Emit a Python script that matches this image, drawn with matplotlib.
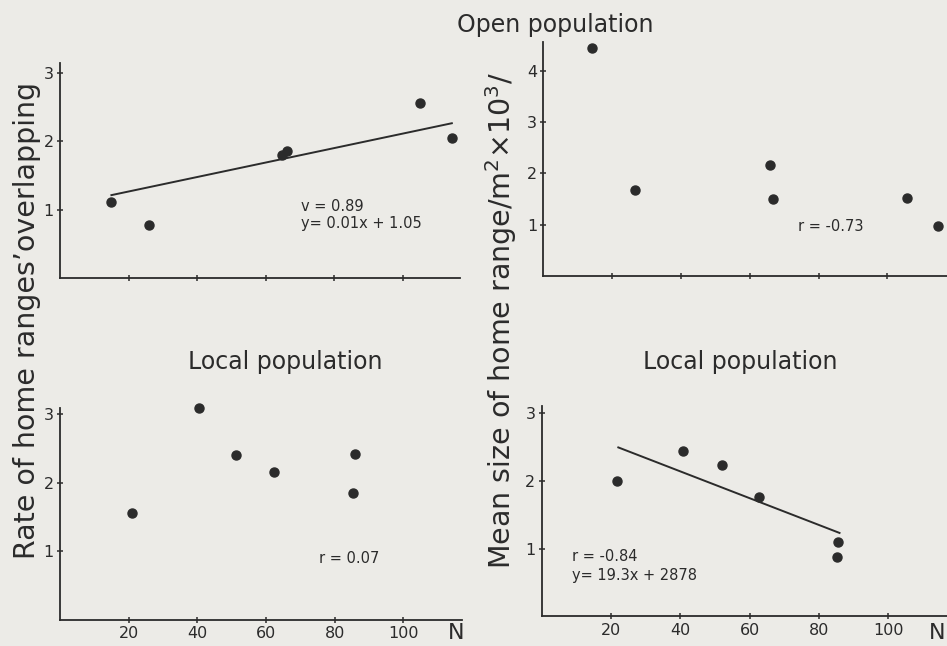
import matplotlib.pyplot as plt

# Open population (top panels)
open_n = [15, 26, 64.8, 66.3, 105, 114.4]
open_overlap = [1.11, 0.77, 1.79, 1.85, 2.56, 2.05]
open_size_n = [14.2, 26.5, 65.8, 66.6, 105.8, 114.7]
open_size = [4.44, 1.67, 2.17, 1.51, 1.53, 0.99]
open_fit_x = [15, 114.4]
open_fit_y = [1.21, 2.26]

# Local population (bottom panels)
local_n = [21.1, 40.4, 51.3, 62.4, 86.0, 85.3]
local_overlap = [1.56, 3.09, 2.40, 2.16, 2.42, 1.85]
local_size_n = [21.8, 40.7, 52.0, 62.6, 85.6, 85.2]
local_size = [2.00, 2.44, 2.23, 1.76, 1.10, 0.88]
local_fit_x = [22.1, 85.9]
local_fit_y = [2.49, 1.23]

x_ticks = [20, 40, 60, 80, 100]

bg = '#ecebe7'
ink = '#2b2b2b'
plt.rcParams['font.family'] = ['DejaVu Sans']
plt.rcParams['text.color'] = ink

fig = plt.figure(figsize=(9.47, 6.46), dpi=100, facecolor=bg)


def setup(ax, ylim, xlim, yticks, show_x):
    ax.set_facecolor(bg)
    ax.set_xlim(0, xlim)
    ax.set_ylim(0, ylim)
    for s in ['top', 'right']:
        ax.spines[s].set_visible(False)
    for s in ['left', 'bottom']:
        ax.spines[s].set_color(ink)
        ax.spines[s].set_linewidth(1.3)
    ax.set_yticks(yticks)
    ax.set_xticks(x_ticks)
    ax.tick_params(direction='inout', length=5, width=1.1, color=ink,
                   labelsize=11.5, labelcolor=ink, pad=2)
    if not show_x:
        ax.set_xticklabels([])
    else:
        ax.tick_params(axis='x', pad=2)


ax1 = fig.add_axes([0.0634, 0.5697, 0.4224, 0.3328])
setup(ax1, 3.14, 116.8, [1, 2, 3], False)
ax1.plot(open_n, open_overlap, 'o', color=ink, ms=6.5)
ax1.plot(open_fit_x, open_fit_y, '-', color=ink, lw=1.4)
ax1.text(70.5, 1.04, 'v = 0.89', fontsize=10.5, va='center')
ax1.text(70.5, 0.79, 'y= 0.01x + 1.05', fontsize=10.5, va='center')

ax2 = fig.add_axes([0.5739, 0.572, 0.4261, 0.3635])
setup(ax2, 4.56, 117.3, [1, 2, 3, 4], False)
ax2.plot(open_size_n, open_size, 'o', color=ink, ms=6.5)
ax2.text(74, 0.97, 'r = -0.73', fontsize=10.5, va='center')

ax3 = fig.add_axes([0.0634, 0.0402, 0.4242, 0.3282])
setup(ax3, 3.09, 117, [1, 2, 3], True)
ax3.plot(local_n, local_overlap, 'o', color=ink, ms=6.5, clip_on=False)
ax3.text(75.5, 0.89, 'r = 0.07', fontsize=10.5, va='center')

ax4 = fig.add_axes([0.572, 0.0458, 0.428, 0.3257])
setup(ax4, 3.1, 116.9, [1, 2, 3], True)
ax4.plot(local_size_n, local_size, 'o', color=ink, ms=6.5)
ax4.plot(local_fit_x, local_fit_y, '-', color=ink, lw=1.4)
ax4.text(8.7, 0.88, 'r = -0.84', fontsize=10.5, va='center')
ax4.text(8.7, 0.61, 'y= 19.3x + 2878', fontsize=10.5, va='center')

# titles and axis labels
fig.text(555 / 947, 1 - 25 / 646, 'Open population', fontsize=17, ha='center', va='center')
fig.text(285 / 947, 1 - 362 / 646, 'Local population', fontsize=17, ha='center', va='center')
fig.text(740 / 947, 1 - 362 / 646, 'Local population', fontsize=17, ha='center', va='center')
fig.text(456 / 947, 1 - 633 / 646, 'N', fontsize=16, ha='center', va='center')
fig.text(937 / 947, 1 - 633 / 646, 'N', fontsize=16, ha='center', va='center')
fig.text(27 / 947, 1 - 320 / 646, 'Rate of home ranges\u2019overlapping', fontsize=20.5,
         rotation=90, ha='center', va='center')
fig.text(501 / 947, 1 - 321 / 646, 'Mean size of home range/m$^2$\u00d710$^3$/', fontsize=20.5,
         rotation=90, ha='center', va='center')

fig.savefig('out.png', dpi=100, facecolor=bg)
